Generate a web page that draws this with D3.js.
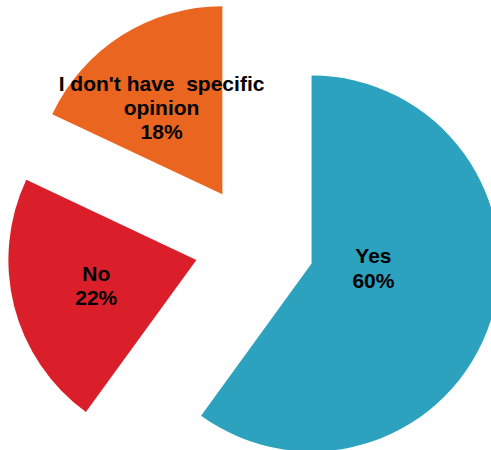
<!DOCTYPE html>
<meta charset='utf-8'>
<style>
	body { margin: 0; background: #fff; }
	#chart text {
		font-family: 'Liberation Sans', Arial, sans-serif;
		font-weight: bold;
		font-size: 21px;
		fill: #000;
		white-space: pre;
	}
</style>
<body>
	<div id='chart'></div>
<script src='https://cdn.jsdelivr.net/npm/d3@7/dist/d3.min.js'></script>
<script>
	// data
	const categories = [ 'Yes', 'No', "I don't have  specific\nopinion" ];
	const values = [ 60, 22, 18 ];
	const colors = [ '#2ca2be', '#da1f2b', '#ea651f' ];

	const width = 491, height = 450,
		center = [ 254.5, 245 ],
		radius = 188,
		explode = 60,
		lineHeight = 24.3,
		labelRadius = 0.55;

	// some labels don't sit on the mid angle
	const labelOverride = {
		'Yes': { angle: 94, radius: 0.33 },
		"I don't have  specific\nopinion": { angle: 325, radius: 0.564 },
	};

	let svg = d3.select( '#chart' )
		.append( 'svg' )
		.attr( 'width', width )
		.attr( 'height', height );

	let pie = d3.pie()
		.sort( null )
		.value( d => d.value );

	let arc = d3.arc()
		.innerRadius( 0 )
		.outerRadius( radius );

	let slices = pie( categories.map( ( c, i ) => ( { name: c, value: values[ i ], color: colors[ i ] } ) ) );

	const polar = ( a, r ) => [ Math.sin( a ) * r, -Math.cos( a ) * r ];

	let g = svg.selectAll( '.slice' )
		.data( slices )
		.enter().append( 'g' )
			.attr( 'class', 'slice' )
			.attr( 'transform', d => {
				let mid = ( d.startAngle + d.endAngle ) / 2;
				let off = polar( mid, explode );
				return `translate( ${center[0] + off[0]}, ${center[1] + off[1]} )`;
			} );

	g.append( 'path' )
		.attr( 'd', arc )
		.style( 'fill', d => d.data.color );

	g.each( function( d ) {
		let mid = ( d.startAngle + d.endAngle ) / 2;
		let pos = polar( mid, radius * labelRadius );
		let o = labelOverride[ d.data.name ];
		if ( o ) pos = polar( o.angle * Math.PI / 180, radius * o.radius );

		let lines = d.data.name.split( '\n' ).concat( [ d.data.value + '%' ] );
		let y0 = pos[1] - ( lines.length - 1 ) * lineHeight / 2 + 7.5;

		let t = d3.select( this ).append( 'text' )
			.attr( 'text-anchor', 'middle' );
		lines.forEach( ( l, i ) => {
			t.append( 'tspan' )
				.attr( 'x', pos[0] )
				.attr( 'y', y0 + i * lineHeight )
				.text( l );
		} );
	} );
</script>
</body>
